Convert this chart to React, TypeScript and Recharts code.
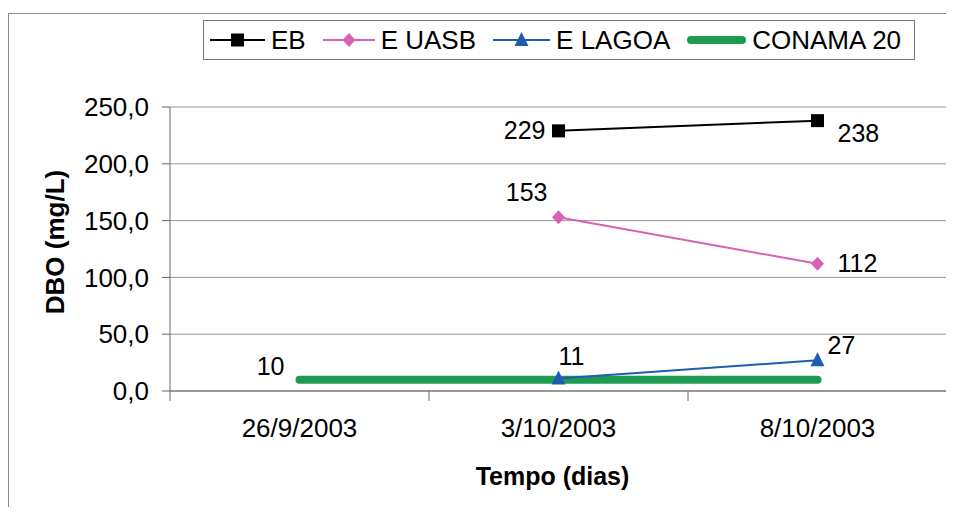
import React from 'react';
import {
  LineChart,
  Line,
  XAxis,
  YAxis,
  CartesianGrid,
  Legend,
  LabelList,
  ReferenceLine,
} from 'recharts';

const FONT = '"Liberation Sans", Arial, Helvetica, sans-serif';

// Sampling dates (x categories)
const categories = ['26/9/2003', '3/10/2003', '8/10/2003'];

// DBO (mg/L) per sampling point
const ebValues: (number | null)[] = [null, 229, 238];
const uasbValues: (number | null)[] = [null, 153, 112];
const lagoaValues: (number | null)[] = [null, 11, 27];
const conamaValues: (number | null)[] = [10, 10, 10];

const yTicks = [0, 50, 100, 150, 200, 250];

const data = categories.map((label, i) => ({
  pos: i,
  label,
  eb: ebValues[i],
  uasb: uasbValues[i],
  lagoa: lagoaValues[i],
  conama: conamaValues[i],
}));

// Whole steps are category centres (date labels), half steps are category boundaries (tick marks)
const xTicks = categories.flatMap((_, i) => (i === 0 ? [i - 0.5, i, i + 0.5] : [i, i + 0.5]));

type MarkerKind = 'square' | 'diamond' | 'triangle' | null;

const seriesDefs: { key: string; name: string; color: string; width: number; marker: MarkerKind; swatch: number }[] = [
  { key: 'eb', name: 'EB', color: '#000000', width: 2, marker: 'square', swatch: 55 },
  { key: 'uasb', name: 'E UASB', color: '#d861b6', width: 2, marker: 'diamond', swatch: 52 },
  { key: 'lagoa', name: 'E LAGOA', color: '#1c5eb0', width: 2, marker: 'triangle', swatch: 57 },
  { key: 'conama', name: 'CONAMA 20', color: '#1f9a52', width: 8, marker: null, swatch: 59 },
];

// Where each data label sits relative to its point
type Place = { dx: number; dy: number; anchor: 'start' | 'end' | 'middle' };
const labelPlaces: Record<string, Record<number, Place>> = {
  eb: { 1: { dx: -13, dy: -1, anchor: 'end' }, 2: { dx: 20, dy: 12, anchor: 'start' } },
  uasb: { 1: { dx: -11, dy: -25, anchor: 'end' }, 2: { dx: 20, dy: -1, anchor: 'start' } },
  lagoa: { 1: { dx: 0, dy: -23, anchor: 'start' }, 2: { dx: 10, dy: -15, anchor: 'start' } },
  conama: { 0: { dx: -15, dy: -14, anchor: 'end' } },
};

function drawMarker(kind: MarkerKind, cx: number, cy: number, color: string) {
  if (kind === 'square') {
    return <rect x={cx - 6.5} y={cy - 6.5} width={13} height={13} fill={color} />;
  }
  if (kind === 'diamond') {
    return <polygon points={`${cx},${cy - 7} ${cx + 6.5},${cy} ${cx},${cy + 7} ${cx - 6.5},${cy}`} fill={color} />;
  }
  if (kind === 'triangle') {
    return <polygon points={`${cx},${cy - 8} ${cx + 7},${cy + 6} ${cx - 7},${cy + 6}`} fill={color} />;
  }
  return null;
}

const makeDot = (kind: MarkerKind, color: string) => (props: any) => {
  const { cx, cy, index } = props;
  if (cx == null || cy == null || props.value == null || (Array.isArray(props.value) && props.value[1] == null)) {
    return <g key={`d-${index}`} />;
  }
  return <g key={`d-${index}`}>{drawMarker(kind, cx, cy, color)}</g>;
};

const makeLabel = (key: string) => (props: any) => {
  const { x, y, value, index } = props;
  const place = labelPlaces[key]?.[index];
  if (value == null || place == null || x == null || y == null) return null;
  return (
    <text
      x={x + place.dx}
      y={y + place.dy}
      textAnchor={place.anchor}
      dominantBaseline="central"
      fontFamily={FONT}
      fontSize={25}
      fill="#000"
    >
      {value}
    </text>
  );
};

const renderXTick = (props: any) => {
  const { x, y, payload } = props;
  const v = payload.value as number;
  if (!Number.isInteger(v)) {
    return <line x1={x} x2={x} y1={y} y2={y + 10} stroke="#666" strokeWidth={1} />;
  }
  return (
    <text x={x} y={y + 37} textAnchor="middle" dominantBaseline="central" fontFamily={FONT} fontSize={26} fill="#000">
      {categories[v]}
    </text>
  );
};

const renderXTitle = (props: any) => {
  const vb = props.viewBox || {};
  const cx = vb.x + vb.width / 2 - 6;
  const cy = vb.y + 85;
  return (
    <text x={cx} y={cy} textAnchor="middle" dominantBaseline="central" fontFamily={FONT} fontSize={25} fontWeight="bold" fill="#000">
      Tempo (dias)
    </text>
  );
};

const renderYTitle = (props: any) => {
  const vb = props.viewBox || {};
  const cx = 46;
  const cy = vb.y + vb.height / 2 - 7;
  return (
    <text
      x={cx}
      y={cy}
      transform={`rotate(-90, ${cx}, ${cy})`}
      textAnchor="middle"
      dominantBaseline="central"
      fontFamily={FONT}
      fontSize={26}
      fontWeight="bold"
      fill="#000"
    >
      DBO (mg/L)
    </text>
  );
};

const renderLegend = () => (
  <div
    style={{
      display: 'inline-flex',
      alignItems: 'center',
      height: 40,
      boxSizing: 'border-box',
      border: '1px solid #777',
      padding: '0 13px 0 6px',
      background: '#fff',
      fontFamily: FONT,
      fontSize: 26,
      color: '#000',
      whiteSpace: 'nowrap',
    }}
  >
    {seriesDefs.map((s, i) => (
      <div key={s.key} style={{ display: 'flex', alignItems: 'center', marginLeft: i ? 17 : 0 }}>
        <svg width={s.swatch} height={20} style={{ display: 'block' }}>
          <line
            x1={s.marker ? 0 : 4}
            x2={s.marker ? s.swatch : s.swatch - 4}
            y1={10}
            y2={10}
            stroke={s.color}
            strokeWidth={s.width}
            strokeLinecap={s.marker ? 'butt' : 'round'}
          />
          {drawMarker(s.marker, s.swatch / 2, 10, s.color)}
        </svg>
        <span style={{ marginLeft: 6, lineHeight: 1 }}>{s.name}</span>
      </div>
    ))}
  </div>
);

const formatY = (v: number) => v.toFixed(1).replace('.', ',');

export default function App() {
  const drawOrder = ['conama', 'lagoa', 'uasb', 'eb'];
  return (
    <div
      style={{
        marginTop: 5,
        width: 945,
        height: 493,
        borderTop: '1px solid #8a8a8a',
        borderLeft: '1px solid #8a8a8a',
        background: '#fff',
      }}
    >
      <LineChart width={945} height={493} data={data} margin={{ top: 93, right: 7, bottom: 0, left: 0 }}>
        <CartesianGrid horizontal vertical={false} stroke="#999" />
        <XAxis
          dataKey="pos"
          type="number"
          domain={[-0.5, 2.5]}
          ticks={xTicks}
          interval={0}
          allowDecimals
          tickSize={0}
          tickMargin={0}
          tickLine={false}
          axisLine={{ stroke: '#666' }}
          height={116}
          tick={renderXTick}
          label={{ content: renderXTitle }}
        />
        <YAxis
          domain={[0, 250]}
          ticks={yTicks}
          interval={0}
          width={161}
          tickSize={8}
          tickMargin={13}
          tickLine={{ stroke: '#666' }}
          axisLine={{ stroke: '#666' }}
          tick={{ fontSize: 26, fill: '#000', fontFamily: FONT }}
          tickFormatter={formatY}
          label={{ content: renderYTitle }}
        />
        <ReferenceLine x={2.5} stroke="#999" />
        <Legend
          layout="vertical"
          align="center"
          verticalAlign="middle"
          content={renderLegend}
          wrapperStyle={{ left: 194, top: 6, width: 'auto', height: 'auto' }}
        />
        {drawOrder.map((key) => {
          const s = seriesDefs.find((d) => d.key === key)!;
          return (
            <Line
              key={s.key}
              type="linear"
              dataKey={s.key}
              name={s.name}
              stroke={s.color}
              strokeWidth={s.width}
              strokeLinecap={s.marker ? 'butt' : 'round'}
              dot={makeDot(s.marker, s.color)}
              activeDot={false}
              isAnimationActive={false}
              connectNulls={false}
            >
              <LabelList dataKey={s.key} content={makeLabel(s.key)} />
            </Line>
          );
        })}
      </LineChart>
    </div>
  );
}
